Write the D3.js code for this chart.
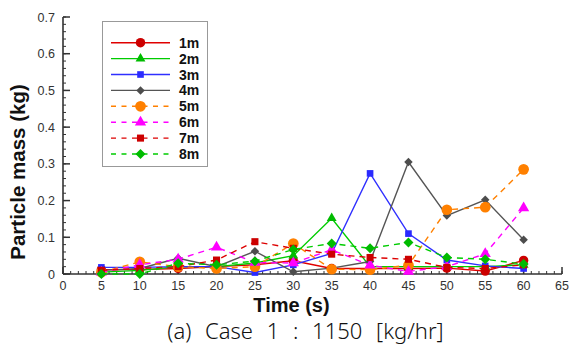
<!DOCTYPE html>
<html>
<head>
<meta charset="utf-8">
<script src="https://cdn.jsdelivr.net/npm/d3@7"></script>
<style>
  html, body { margin: 0; padding: 0; background: #fff; }
  svg { display: block; }
</style>
</head>
<body>
<svg id="chart" width="569" height="352"></svg>
<script>
const times = [5, 10, 15, 20, 25, 30, 35, 40, 45, 50, 55, 60];
const seriesNames = ["1m", "2m", "3m", "4m", "5m", "6m", "7m", "8m"];
const s1m = [0.012, 0.012, 0.015, 0.02, 0.025, 0.036, 0.015, 0.015, 0.015, 0.016, 0.008, 0.037];
const s2m = [0.005, 0.01, 0.02, 0.02, 0.03, 0.05, 0.152, 0.02, 0.02, 0.02, 0.02, 0.025];
const s3m = [0.018, 0.018, 0.02, 0.02, 0.004, 0.025, 0.056, 0.274, 0.11, 0.038, 0.022, 0.015];
const s4m = [0.01, 0.015, 0.043, 0.02, 0.062, 0.006, 0.016, 0.034, 0.305, 0.159, 0.202, 0.093];
const s5m = [0.005, 0.033, 0.02, 0.015, 0.02, 0.083, 0.013, 0.012, 0.024, 0.175, 0.182, 0.285];
const s6m = [0.005, 0.025, 0.04, 0.073, 0.031, 0.03, 0.066, 0.024, 0.007, 0.02, 0.055, 0.18];
const s7m = [0.01, 0.015, 0.02, 0.038, 0.088, 0.07, 0.054, 0.045, 0.04, 0.018, 0.015, 0.025];
const s8m = [0.0, 0.0, 0.029, 0.025, 0.035, 0.067, 0.083, 0.07, 0.086, 0.045, 0.04, 0.027];
const xTicks = [0, 5, 10, 15, 20, 25, 30, 35, 40, 45, 50, 55, 60, 65];
const yTicks = [0, 0.1, 0.2, 0.3, 0.4, 0.5, 0.6, 0.7];
const yTickLabels = ["0", "0.1", "0.2", "0.3", "0.4", "0.5", "0.6", "0.7"];
const xTitle = "Time (s)";
const yTitle = "Particle mass (kg)";
const caption = "(a) Case 1 : 1150 [kg/hr]";

const allValues = [s1m, s2m, s3m, s4m, s5m, s6m, s7m, s8m];
const styles = [
  { color: "#e00000", mcolor: "#cc0000", dash: null, marker: "circle", size: 70 },
  { color: "#00cc00", mcolor: "#00bb00", dash: null, marker: "triangle", size: 42 },
  { color: "#2f2fff", mcolor: "#2a2aff", dash: null, marker: "square", size: 44 },
  { color: "#555555", mcolor: "#4d4d4d", dash: null, marker: "diamond", size: 36 },
  { color: "#ff8000", mcolor: "#ff8000", dash: "6,5", marker: "circle", size: 90 },
  { color: "#ff00ff", mcolor: "#ff00ff", dash: "6,5", marker: "triangle", size: 55 },
  { color: "#dd0000", mcolor: "#cc0000", dash: "6,5", marker: "square", size: 50 },
  { color: "#00cc00", mcolor: "#00bb00", dash: "6,5", marker: "diamond", size: 50 }
];
const symMap = { circle: d3.symbolCircle, triangle: d3.symbolTriangle, square: d3.symbolSquare, diamond: d3.symbolSquare };
const rotFor = m => m === "diamond" ? " rotate(45)" : "";

const svg = d3.select("#chart");
const x = d3.scaleLinear().domain([0, 65]).range([63, 562]);
const y = d3.scaleLinear().domain([0, 0.7]).range([274, 17]);

// axes
const axisColor = "#333";
const gAxes = svg.append("g");
gAxes.selectAll(".xminor").data(d3.range(0, 66, 1)).enter().append("line")
  .attr("x1", d => x(d)).attr("x2", d => x(d))
  .attr("y1", y(0)).attr("y2", y(0) - 3)
  .attr("stroke", axisColor).attr("stroke-width", 1);
gAxes.selectAll(".xmajor").data(xTicks).enter().append("line")
  .attr("x1", d => x(d)).attr("x2", d => x(d))
  .attr("y1", y(0)).attr("y2", y(0) - 7)
  .attr("stroke", axisColor).attr("stroke-width", 1.5);
gAxes.selectAll(".yminor").data(d3.range(0, 36).map(i => i * 0.02)).enter().append("line")
  .attr("x1", x(0)).attr("x2", x(0) + 3)
  .attr("y1", d => y(d)).attr("y2", d => y(d))
  .attr("stroke", axisColor).attr("stroke-width", 1);
gAxes.selectAll(".ymajor").data(yTicks).enter().append("line")
  .attr("x1", x(0)).attr("x2", x(0) + 7)
  .attr("y1", d => y(d)).attr("y2", d => y(d))
  .attr("stroke", axisColor).attr("stroke-width", 1.5);
gAxes.append("line").attr("x1", x(0)).attr("x2", x(0)).attr("y1", y(0.7)).attr("y2", y(0))
  .attr("stroke", axisColor).attr("stroke-width", 1.6);
gAxes.append("line").attr("x1", x(0)).attr("x2", x(65)).attr("y1", y(0)).attr("y2", y(0))
  .attr("stroke", axisColor).attr("stroke-width", 1.6);

// tick labels
svg.selectAll(".xlab").data(xTicks).enter().append("text")
  .attr("x", d => x(d)).attr("y", 290)
  .attr("text-anchor", "middle")
  .attr("font-family", "Liberation Sans, Arial, sans-serif").attr("font-size", 12.5)
  .attr("fill", "#333").text(d => d);
svg.selectAll(".ylab").data(yTicks).enter().append("text")
  .attr("x", 55).attr("y", d => y(d) + 4.5)
  .attr("text-anchor", "end")
  .attr("font-family", "Liberation Sans, Arial, sans-serif").attr("font-size", 12.5)
  .attr("fill", "#333").text((d, i) => yTickLabels[i]);

// titles
svg.append("text").attr("x", 291.5).attr("y", 312).attr("text-anchor", "middle")
  .attr("font-family", "Liberation Sans, Arial, sans-serif").attr("font-weight", "bold")
  .attr("font-size", 20).attr("fill", "#111").text(xTitle);
svg.append("text").attr("transform", "translate(25,172) rotate(-90)").attr("text-anchor", "middle")
  .attr("font-family", "Liberation Sans, Arial, sans-serif").attr("font-weight", "bold")
  .attr("font-size", 20.5).attr("fill", "#111").text(yTitle);
svg.append("text").attr("x", 305.5).attr("y", 339).attr("text-anchor", "middle")
  .attr("font-family", "Noto Sans, sans-serif").attr("font-weight", 300)
  .attr("font-size", 22).attr("word-spacing", 8).attr("fill", "#111").text(caption);

// series
const line = d3.line().x((d, i) => x(times[i])).y(d => y(d));
allValues.forEach((vals, si) => {
  const st = styles[si];
  const g = svg.append("g");
  g.append("path").datum(vals).attr("d", line)
    .attr("fill", "none").attr("stroke", st.color).attr("stroke-width", 1.4)
    .attr("stroke-dasharray", st.dash);
  g.selectAll("path.m").data(vals).enter().append("path").attr("class", "m")
    .attr("transform", (d, i) => `translate(${x(times[i])},${y(d)})${rotFor(st.marker)}`)
    .attr("d", d3.symbol().type(symMap[st.marker]).size(st.size))
    .attr("fill", st.mcolor);
});

// legend
const lg = svg.append("g");
lg.append("rect").attr("x", 102.5).attr("y", 21.5).attr("width", 105).attr("height", 145)
  .attr("fill", "#fff").attr("stroke", "#999").attr("stroke-width", 1);
seriesNames.forEach((name, i) => {
  const st = styles[i];
  const ly = 42.7 + i * 15.9;
  lg.append("line").attr("x1", 111).attr("x2", 170).attr("y1", ly).attr("y2", ly)
    .attr("stroke", st.color).attr("stroke-width", 1.4).attr("stroke-dasharray", st.dash ? "5,5.5" : null);
  lg.append("path").attr("transform", `translate(140.5,${ly})${rotFor(st.marker)}`)
    .attr("d", d3.symbol().type(symMap[st.marker]).size(st.size)).attr("fill", st.mcolor);
  lg.append("text").attr("x", 179).attr("y", ly + 5).attr("font-family", "Liberation Sans, Arial, sans-serif")
    .attr("font-weight", "bold").attr("font-size", 14).attr("fill", "#111").text(name);
});
</script>
</body>
</html>
